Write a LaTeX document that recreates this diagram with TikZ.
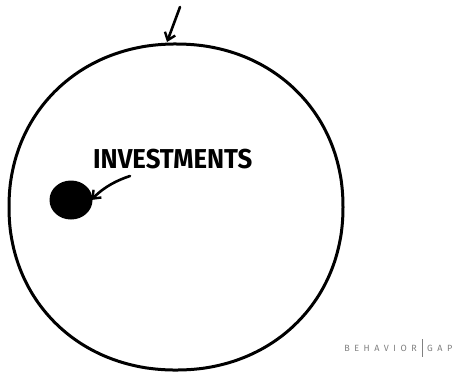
\documentclass[tikz,border=0pt]{standalone}
\usepackage{fontspec}
\setmainfont{Fira Sans}
\usetikzlibrary{arrows.meta}
\begin{document}
\begin{tikzpicture}[x=1pt,y=1pt,
  ink/.style={line width=3pt,line cap=round,line join=round},
  pointer/.style={line width=2.6pt,line cap=round,-{Straight Barb[length=7pt,width=11pt,line width=2.4pt]}},
  label/.style={font=\bfseries\fontsize{26}{26}\selectfont,inner sep=0pt,anchor=south west},
  brand/.style={font=\fontsize{9}{9}\selectfont,text=gray,inner sep=0pt}]
\useasboundingbox (0,0) rectangle (460,-373);
% big circle
\draw[ink] plot[domain=0:360,samples=120,smooth cycle]
  ({176+167*sign(cos(\x))*abs(cos(\x))^(0.96)},{-207+163*sign(sin(\x))*abs(sin(\x))^(0.96)});
\coordinate (top) at (167,-42);
\coordinate (topstart) at (180,-7);
\draw[pointer] (topstart) -- (top);
% investments dot
\fill (71,-200) ellipse [x radius=21.5,y radius=19.5];
\node[circle,minimum size=40pt,inner sep=0pt] (dot) at (71,-200) {};
\node[label] (inv) at (93,-169) {\scalebox{0.99}[1.05]{INVESTMENTS}};
\coordinate (arrstart) at (130,-176);
\draw[pointer] (arrstart) .. controls (118,-180) and (105,-186) .. (dot.east);
% brand
\node[brand,anchor=east] (beh) at (417,-348) {B\,\,\,E\,\,\,H\,\,\,A\,\,\,V\,\,\,I\,\,\,O\,\,\,R};
\node[brand,anchor=west] (gap) at (427,-348) {G\,\,\,A\,\,\,P};
\draw[gray,line width=0.8pt] (422,-339) -- (422,-357);
\end{tikzpicture}
\end{document}
